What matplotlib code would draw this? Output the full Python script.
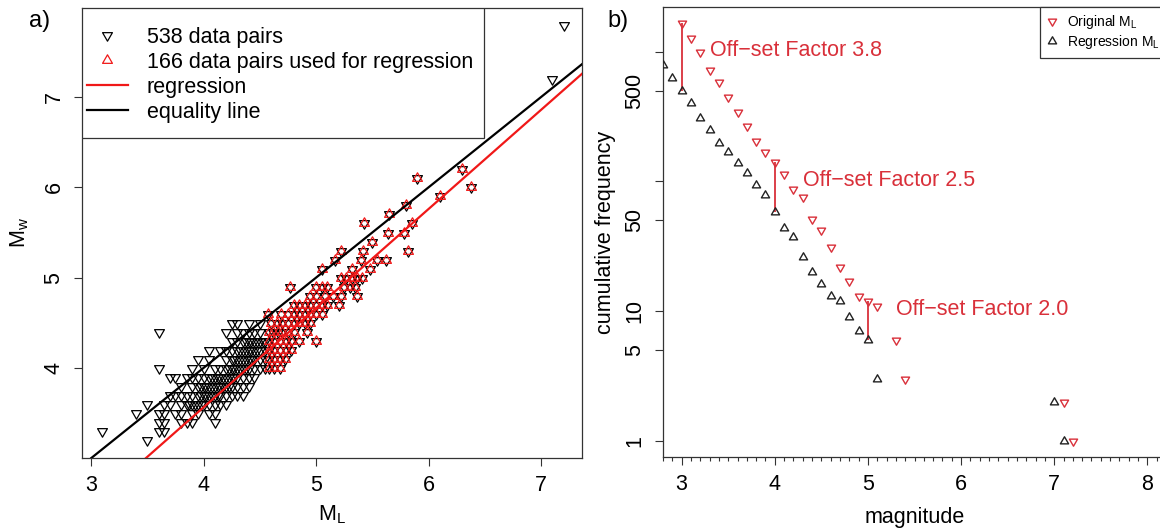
import matplotlib
matplotlib.use("Agg")
import matplotlib.pyplot as plt
from matplotlib.lines import Line2D
from matplotlib.patches import Rectangle
from matplotlib.path import Path
from matplotlib.ticker import MultipleLocator, FixedLocator, NullLocator

plt.rcParams['font.family'] = ['Liberation Sans', 'DejaVu Sans']
plt.rcParams['mathtext.fontset'] = 'custom'
plt.rcParams['mathtext.rm'] = 'Liberation Sans'

# ---- panel a) : ML vs Mw ------------------------------------------------
# pairs not used for the regression (one line per Mw level)
black_ml = [
    3.5,
    3.1, 3.6, 3.65,
    3.6, 3.65, 3.8, 3.85, 3.9, 4.1,
    3.4, 3.6, 3.65, 3.75, 3.8, 3.9, 3.95, 4.05, 4.1,
    3.5, 3.65, 3.7, 3.8, 3.85, 3.9, 3.95, 4.0, 4.05, 4.1, 4.15, 4.2,
    3.7, 3.75, 3.8, 3.85, 3.9, 3.95, 4.0, 4.05, 4.1, 4.15, 4.2, 4.25, 4.3, 4.35,
    3.8, 3.9, 3.95, 4.0, 4.05, 4.1, 4.15, 4.2, 4.25, 4.3, 4.35, 4.4,
    3.7, 3.75, 3.85, 3.9, 3.95, 4.0, 4.05, 4.1, 4.15, 4.2, 4.25, 4.3, 4.35, 4.4, 4.45,
    3.6, 3.9, 4.0, 4.1, 4.15, 4.2, 4.25, 4.3, 4.35, 4.4, 4.45, 4.5, 4.55,
    3.95, 4.05, 4.2, 4.25, 4.3, 4.35, 4.4, 4.45, 4.5, 4.55,
    4.05, 4.15, 4.2, 4.25, 4.3, 4.35, 4.4, 4.45, 4.5, 4.55,
    4.25, 4.3, 4.35, 4.4, 4.45, 4.5, 4.55,
    3.6, 4.2, 4.3, 4.35, 4.4, 4.45, 4.5,
    4.25, 4.3, 4.4, 4.5,
    7.1, 7.2,
    # dense core (overlapping pairs)
    3.875, 3.925, 3.975,
    3.975, 4.025, 4.075, 4.125,
    3.975, 4.025, 4.075, 4.125, 4.175, 4.225,
    4.075, 4.125, 4.175, 4.225, 4.275,
    4.225, 4.275, 4.325, 4.375,
    4.275, 4.325, 4.375, 4.425,
    4.325, 4.375, 4.425, 4.475,
    4.375, 4.425, 4.475, 4.525,
]
black_mw = [
    3.2,
    3.3, 3.3, 3.3,
    3.4, 3.4, 3.4, 3.4, 3.4, 3.4,
    3.5, 3.5, 3.5, 3.5, 3.5, 3.5, 3.5, 3.5, 3.5,
    3.6, 3.6, 3.6, 3.6, 3.6, 3.6, 3.6, 3.6, 3.6, 3.6, 3.6, 3.6,
    3.7, 3.7, 3.7, 3.7, 3.7, 3.7, 3.7, 3.7, 3.7, 3.7, 3.7, 3.7, 3.7, 3.7,
    3.8, 3.8, 3.8, 3.8, 3.8, 3.8, 3.8, 3.8, 3.8, 3.8, 3.8, 3.8,
    3.9, 3.9, 3.9, 3.9, 3.9, 3.9, 3.9, 3.9, 3.9, 3.9, 3.9, 3.9, 3.9, 3.9, 3.9,
    4.0, 4.0, 4.0, 4.0, 4.0, 4.0, 4.0, 4.0, 4.0, 4.0, 4.0, 4.0, 4.0,
    4.1, 4.1, 4.1, 4.1, 4.1, 4.1, 4.1, 4.1, 4.1, 4.1,
    4.2, 4.2, 4.2, 4.2, 4.2, 4.2, 4.2, 4.2, 4.2, 4.2,
    4.3, 4.3, 4.3, 4.3, 4.3, 4.3, 4.3,
    4.4, 4.4, 4.4, 4.4, 4.4, 4.4, 4.4,
    4.5, 4.5, 4.5, 4.5,
    7.2, 7.8,
    # dense core (overlapping pairs)
    3.6, 3.6, 3.6,
    3.7, 3.7, 3.7, 3.7,
    3.8, 3.8, 3.8, 3.8, 3.8, 3.8,
    3.9, 3.9, 3.9, 3.9, 3.9,
    4.0, 4.0, 4.0, 4.0,
    4.1, 4.1, 4.1, 4.1,
    4.2, 4.2, 4.2, 4.2,
    4.3, 4.3, 4.3, 4.3,
]

# pairs used for the regression
red_ml = [
    4.58, 4.63, 4.68,
    4.58, 4.63, 4.68, 4.72,
    4.58, 4.63, 4.68, 4.73, 4.78,
    4.58, 4.63, 4.68, 4.73, 4.78, 4.85, 5.0,
    4.58, 4.62, 4.66, 4.7, 4.75, 4.8, 4.92,
    4.6, 4.65, 4.7, 4.75, 4.8, 4.85, 4.9, 4.95,
    4.57, 4.69, 4.75, 4.8, 4.85, 4.9, 4.95, 5.0, 5.05,
    4.8, 4.85, 4.9, 4.95, 5.0, 5.05, 5.1, 5.2,
    4.95, 5.0, 5.08, 5.15, 5.22, 5.36,
    4.77, 5.0, 5.05, 5.1, 5.25, 5.3, 5.35,
    5.22, 5.27, 5.32, 5.36, 5.41,
    5.05, 5.32, 5.48,
    5.17, 5.4, 5.54, 5.62,
    5.22, 5.42, 5.82,
    5.5,
    5.64, 5.78,
    5.43, 5.85,
    5.65,
    5.8,
    6.1,
    5.9,
    6.38,
    6.3,
]
red_mw = [
    4.0, 4.0, 4.0,
    4.1, 4.1, 4.1, 4.1,
    4.2, 4.2, 4.2, 4.2, 4.2,
    4.3, 4.3, 4.3, 4.3, 4.3, 4.3, 4.3,
    4.4, 4.4, 4.4, 4.4, 4.4, 4.4, 4.4,
    4.5, 4.5, 4.5, 4.5, 4.5, 4.5, 4.5, 4.5,
    4.6, 4.6, 4.6, 4.6, 4.6, 4.6, 4.6, 4.6, 4.6,
    4.7, 4.7, 4.7, 4.7, 4.7, 4.7, 4.7, 4.7,
    4.8, 4.8, 4.8, 4.8, 4.8, 4.8,
    4.9, 4.9, 4.9, 4.9, 4.9, 4.9, 4.9,
    5.0, 5.0, 5.0, 5.0, 5.0,
    5.1, 5.1, 5.1,
    5.2, 5.2, 5.2, 5.2,
    5.3, 5.3, 5.3,
    5.4,
    5.5, 5.5,
    5.6, 5.6,
    5.7,
    5.8,
    5.9,
    6.1,
    6.0,
    6.2,
]

reg_slope = 1.098
reg_intercept = -0.828

# ---- panel b) : cumulative frequency -------------------------------------
mag_orig = [3.0, 3.1, 3.2, 3.3, 3.4, 3.5, 3.6, 3.7, 3.8, 3.9, 4.0, 4.1, 4.2,
            4.3, 4.4, 4.5, 4.6, 4.7, 4.8, 4.9, 5.0, 5.1, 5.3, 5.4, 7.1, 7.2]
cum_orig = [1670, 1280, 998, 721, 586, 444, 344, 269, 206, 169, 142, 114, 87,
            76, 51, 42, 31, 22, 17, 13, 12, 11, 6, 3, 2, 1]
mag_reg = [2.8, 2.9, 3.0, 3.1, 3.2, 3.3, 3.4, 3.5, 3.6, 3.7, 3.8, 3.9, 4.0,
           4.1, 4.2, 4.3, 4.4, 4.5, 4.6, 4.7, 4.8, 4.9, 5.0, 5.1, 7.0, 7.1]
cum_reg = [788, 629, 500, 399, 306, 249, 199, 169, 139, 115, 94, 79, 58,
           44, 37, 26, 20, 16, 13, 12, 9, 7, 6, 3, 2, 1]
offset_mags = [3.0, 4.0, 5.0]
offset_labels = ["Off\u2212set Factor 3.8", "Off\u2212set Factor 2.5", "Off\u2212set Factor 2.0"]

RED = '#f01818'
RED_B = '#d9303a'
FRAME = '#333333'
FS = 15.5

# equilateral triangles with their centroid at the origin (like R's pch 2 / 6)
tri_down = Path([(-1, 0.577), (1, 0.577), (0, -1.155), (-1, 0.577)], closed=True)
tri_up = Path([(-1, -0.577), (1, -0.577), (0, 1.155), (-1, -0.577)], closed=True)

fig = plt.figure(figsize=(11.6, 5.31), dpi=100)

# ======================= panel a =======================
ax1 = fig.add_axes([82 / 1160, 1 - 458 / 531, 500 / 1160, 450 / 531])
ax1.plot(black_ml + red_ml, black_mw + red_mw, ls='none', marker=tri_down, ms=8.2,
         mfc='none', mec='black', mew=0.9, zorder=3)
ax1.plot(red_ml, red_mw, ls='none', marker=tri_up, ms=8.2,
         mfc='none', mec=RED, mew=0.9, zorder=4)
ax1.axline((3, 3), slope=1, color='black', lw=1.6, zorder=5)
ax1.axline((0, reg_intercept), slope=reg_slope, color=RED, lw=1.6, zorder=5)

ax1.set_xlim(2.92, 7.364)
ax1.set_ylim(3.003, 7.986)
ax1.xaxis.set_major_locator(FixedLocator([3, 4, 5, 6, 7]))
ax1.yaxis.set_major_locator(FixedLocator([4, 5, 6, 7]))
ax1.set_yticklabels(['4', '5', '6', '7'], rotation=90, va='center')
ax1.tick_params(direction='out', length=5.5, width=0.8, color=FRAME,
                labelsize=FS, pad=7)
for s in ax1.spines.values():
    s.set_color(FRAME)
    s.set_linewidth(0.9)
ax1.set_xlabel(r'$\mathregular{M_L}$', fontsize=FS, va='center')
ax1.xaxis.set_label_coords(0.5, (458 - 515) / 450)
ax1.set_ylabel(r'$\mathregular{M_w}$', fontsize=FS, va='center')
ax1.yaxis.set_label_coords((20 - 82) / 500, 0.5)

# legend of panel a
ax1.add_patch(Rectangle((0, (458 - 138) / 450), 402 / 500, 130 / 450,
                        transform=ax1.transAxes, facecolor='white',
                        edgecolor=FRAME, lw=0.9, zorder=6))
handles = [
    Line2D([], [], ls='none', marker=tri_down, ms=8.2, mfc='none', mec='black', mew=0.9),
    Line2D([], [], ls='none', marker=tri_up, ms=8.2, mfc='none', mec=RED, mew=0.9),
    Line2D([], [], color=RED, lw=1.6),
    Line2D([], [], color='black', lw=1.6),
]
labels = ['538 data pairs', '166 data pairs used for regression',
          'regression', 'equality line']
leg1 = ax1.legend(handles, labels, loc='upper left', bbox_to_anchor=(5 / 500, (458 - 27) / 450),
                  frameon=False, fontsize=FS, borderpad=0, borderaxespad=0,
                  handlelength=1.9, handletextpad=0.88, labelspacing=0.18)
leg1.set_zorder(7)

# ======================= panel b =======================
ax2 = fig.add_axes([663 / 1160, 1 - 457 / 531, 503 / 1160, 450 / 531])
ax2.set_yscale('log')
for m in offset_mags:
    lo = cum_reg[mag_reg.index(m)]
    hi = cum_orig[mag_orig.index(m)]
    ax2.vlines(m, lo, hi, color=RED_B, lw=1.3, zorder=2)
ax2.plot(mag_orig, cum_orig, ls='none', marker=tri_down, ms=6.8, mfc='none',
         mec=RED_B, mew=1.0, zorder=3)
ax2.plot(mag_reg, cum_reg, ls='none', marker=tri_up, ms=6.8, mfc='none',
         mec='#222222', mew=1.0, zorder=3)

ax2.text(3.30, 1028, offset_labels[0], color=RED_B, fontsize=FS, va='center', ha='left')
ax2.text(4.30, 102, offset_labels[1], color=RED_B, fontsize=FS, va='center', ha='left')
ax2.text(5.306, 10.2, offset_labels[2], color=RED_B, fontsize=FS, va='center', ha='left')

ax2.set_xlim(2.8, 8.2)
ax2.set_ylim(0.748, 2208)
ax2.xaxis.set_major_locator(FixedLocator([3, 4, 5, 6, 7, 8]))
ax2.xaxis.set_minor_locator(MultipleLocator(0.1))
ax2.yaxis.set_major_locator(FixedLocator([1, 5, 10, 50, 100, 500, 1000]))
ax2.yaxis.set_minor_locator(NullLocator())
ax2.set_yticklabels(['1', '5', '10', '50', '', '500', ''], rotation=90, va='center')
ax2.tick_params(which='major', direction='out', length=5.5, width=0.8, color=FRAME,
                labelsize=FS, pad=7)
ax2.tick_params(which='minor', direction='out', length=3, width=0.8, color=FRAME)
for s in ax2.spines.values():
    s.set_color(FRAME)
    s.set_linewidth(0.9)
ax2.set_xlabel('magnitude', fontsize=FS, va='center')
ax2.xaxis.set_label_coords(0.5, (457 - 517) / 450)
ax2.set_ylabel('cumulative frequency', fontsize=FS, va='center')
ax2.yaxis.set_label_coords((606 - 663) / 503, 0.5)

h2 = [
    Line2D([], [], ls='none', marker=tri_down, ms=6.8, mfc='none', mec=RED_B, mew=1.0),
    Line2D([], [], ls='none', marker=tri_up, ms=6.8, mfc='none', mec='#222222', mew=1.0),
]
leg2 = ax2.legend(h2, [r'Original M$_\mathregular{L}$', r'Regression M$_\mathregular{L}$'],
                  loc='upper right', bbox_to_anchor=(1, 1), borderaxespad=0,
                  fontsize=10, fancybox=False, edgecolor=FRAME, framealpha=1,
                  handlelength=0.9, handletextpad=0.6, labelspacing=0.15,
                  borderpad=0.45)
leg2.get_frame().set_linewidth(0.9)

fig.text(40 / 1160, 1 - 21 / 531, 'a)', fontsize=17, ha='center', va='center')
fig.text(618 / 1160, 1 - 21 / 531, 'b)', fontsize=17, ha='center', va='center')

fig.savefig('out.png', dpi=100)
